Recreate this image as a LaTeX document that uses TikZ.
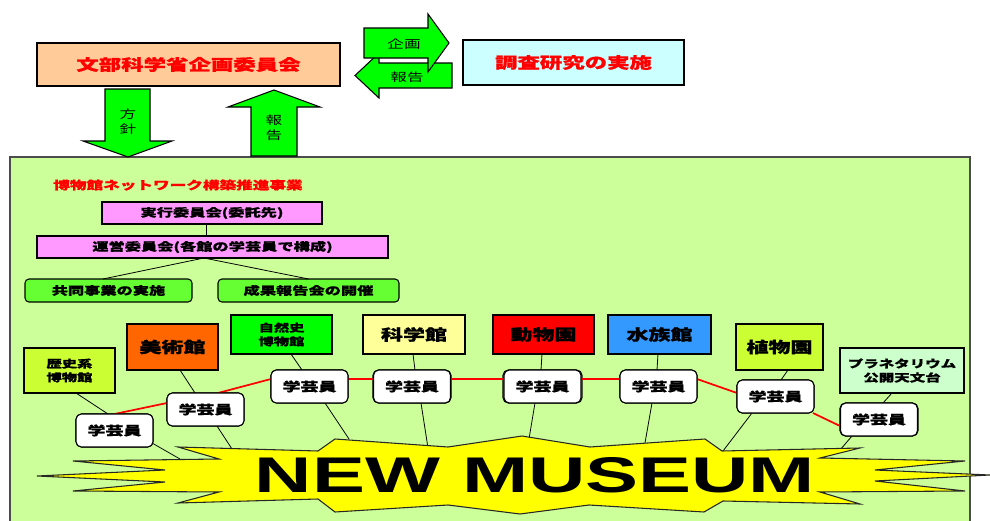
\documentclass[tikz,border=0pt]{standalone}
\usepackage{fontspec}
\setmainfont{Liberation Sans}
\newfontfamily\jp[FakeStretch=1.45, BoldFeatures={FakeBold=0.9}]{Noto Sans CJK JP}
\usetikzlibrary{calc}
\definecolor{peach}{HTML}{FFCC99}
\definecolor{lcyan}{HTML}{CCFFFF}
\definecolor{agreen}{HTML}{00FF00}
\definecolor{panelc}{HTML}{CCFF99}
\definecolor{pinkc}{HTML}{FF99FF}
\definecolor{bgreen}{HTML}{66FF33}
\definecolor{ygreen}{HTML}{CCFF33}
\definecolor{orangec}{HTML}{FF6600}
\definecolor{natc}{HTML}{00FF00}
\definecolor{lyellow}{HTML}{FFFF99}
\definecolor{redc}{HTML}{FF0000}
\definecolor{bluec}{HTML}{3399FF}
\definecolor{mintc}{HTML}{CCFFCC}
\definecolor{starc}{HTML}{FFFF00}
\newcommand\bx[7]{\node[#6, minimum width={(#4-#2)*0.75pt}, minimum height={(#5-#3)*0.75pt}] (#1) at ({(#2+#4)/2},{(#3+#5)/2}) {#7};}
\begin{document}
\begin{tikzpicture}[x=0.75pt,y=-0.75pt,
  base/.style={inner sep=0pt, outer sep=0pt, align=center},
  rbox/.style={base, draw=black, line width=0.8pt},
  gbox/.style={rbox, fill=white, rounded corners=4pt, font=\jp\bfseries\fontsize{9.3}{10}\selectfont},
  bigjp/.style={font=\jp\bfseries\fontsize{11.6}{14}\selectfont},
  midjp/.style={font=\jp\bfseries\fontsize{11.4}{13}\selectfont},
  twojp/.style={font=\jp\bfseries\fontsize{7.9}{10.3}\selectfont},
  smalljp/.style={font=\jp\bfseries\fontsize{8.4}{10}\selectfont},
  arrowlbl/.style={base, font=\jp\fontsize{8.6}{11.2}\selectfont},
  blockarrow/.style={draw=black, line width=0.8pt, fill=agreen},
  conn/.style={draw=black, line width=0.6pt},
  redline/.style={draw=red, line width=1.3pt},
  starshape/.style={draw=black!85, line width=0.8pt, fill=starc, line join=miter}
]
\useasboundingbox (0,0) rectangle (990,521);
\clip (0,0) rectangle (990,521);
\fill[white] (0,0) rectangle (990,521);

% top boxes
\bx{mext}{37}{43}{340}{86}{rbox, fill=peach, text=red, bigjp}{文部科学省企画委員会}
\bx{chosa}{463}{40}{684}{85}{rbox, fill=lcyan, text=red, bigjp}{調査研究の実施}

% main panel
\bx{panel}{10}{157}{970}{545}{rbox, draw=black!70, line width=1.2pt, fill=panelc}{}

% horizontal block arrows
\draw[blockarrow] (452,63) -- (379,63) -- (379,53) -- (355,75.5) -- (379,98) -- (379,88) -- (452,88) -- cycle;
\draw[blockarrow] (364,28) -- (428,28) -- (428,14) -- (449,43) -- (428,72) -- (428,58) -- (364,58) -- cycle;
\node[arrowlbl] (lkikaku) at (404,44) {企画};
\node[arrowlbl] (lhoukoku1) at (407,77) {報告};

% vertical block arrows
\draw[blockarrow] (105,89) -- (150,89) -- (150,141) -- (172,141) -- (128,157) -- (83,141) -- (105,141) -- cycle;
\draw[blockarrow] (251,156) -- (251,107) -- (228,107) -- (274,90) -- (320,107) -- (297,107) -- (297,156) -- cycle;
\node[arrowlbl] (lhoushin) at (128,122) {方\\針};
\node[arrowlbl] (lhoukoku2) at (274,128) {報\\告};

% title
\node[base, text=red, font=\jp\bfseries\fontsize{8.6}{10}\selectfont] (title) at (178,185) {博物館ネットワーク構築推進事業};

% committee tree
\bx{e1}{102}{202}{322}{224}{rbox, fill=pinkc, smalljp}{実行委員会(委託先)}
\bx{e2}{37}{236}{388}{258}{rbox, fill=pinkc, smalljp}{運営委員会(各館の学芸員で構成)}
\bx{j1}{25}{279}{192}{302}{rbox, fill=bgreen, rounded corners=3pt, smalljp}{共同事業の実施}
\bx{j2}{218}{279}{399}{302}{rbox, fill=bgreen, rounded corners=3pt, smalljp}{成果報告会の開催}
\draw[conn] ($(e1.south)+(-6,0)$) -- ($(e2.north)+(-6.5,0)$);
\draw[conn] ($(e2.south)+(-8.5,0)$) -- ($(j1.north)+(-5.5,0)$);
\draw[conn] ($(e2.south)+(-8.5,0)$) -- (j2.north);

% museum boxes
\bx{m1}{24}{348}{115}{393}{rbox, fill=ygreen, twojp}{歴史系\\博物館}
\bx{m2}{127}{324}{218}{370}{rbox, fill=orangec, midjp}{美術館}
\bx{m3}{231}{315}{332}{354}{rbox, fill=natc, twojp}{自然史\\博物館}
\bx{m4}{363}{315}{465}{354}{rbox, fill=lyellow, midjp}{科学館}
\bx{m5}{493}{315}{594}{354}{rbox, fill=redc, midjp}{動物園}
\bx{m6}{608}{315}{711}{354}{rbox, fill=bluec, midjp}{水族館}
\bx{m7}{736}{324}{823}{370}{rbox, fill=ygreen, midjp}{植物園}
\bx{m8}{840}{348}{964}{393}{rbox, fill=mintc, font=\jp\bfseries\fontsize{8}{10.5}\selectfont}{プラネタリウム\\公開天文台}

% star contact points
\coordinate (s1) at (180,459);
\coordinate (s2) at (232,449);
\coordinate (s3) at (349,439);
\coordinate (s4) at (428,448);
\coordinate (s5) at (529,439);
\coordinate (s6) at (645,443);
\coordinate (s7) at (723,451);
\coordinate (s8) at (840,450);

% curator boxes (positions only; drawn later)
\path
  node[gbox, minimum width=57.75pt, minimum height=24.75pt] (g1) at (114.5,430.5) {}
  node[gbox, minimum width=57.75pt, minimum height=24.75pt] (g2) at (205.5,409.5) {}
  node[gbox, minimum width=57.75pt, minimum height=24.75pt] (g3) at (309.5,386.5) {}
  node[gbox, minimum width=58.5pt, minimum height=24.75pt] (g4) at (412,386.5) {}
  node[gbox, minimum width=59.25pt, minimum height=24.75pt] (g5) at (542.5,386.5) {}
  node[gbox, minimum width=57.75pt, minimum height=24.75pt] (g6) at (658.5,386.5) {}
  node[gbox, minimum width=57.75pt, minimum height=24.75pt] (g7) at (775.5,396.5) {}
  node[gbox, minimum width=58.5pt, minimum height=24.75pt] (g8) at (879,419.5) {};

% museum -> curator connectors
\draw[conn] ($(m1.south)+(6.5,0)$) -- ($(g1.north)+(-6.5,0)$);
\draw[conn] ($(m2.south)+(7.5,0)$) -- ($(g2.north)+(-10.5,0)$);
\draw[conn] ($(m3.south)+(9.5,0)$) -- ($(g3.north)+(-7.5,0)$);
\draw[conn] ($(m4.south)+(-1,0)$) -- ($(g4.north)+(3,0)$);
\draw[conn] ($(m5.south)+(-1.5,0)$) -- ($(g5.north)+(-1.5,0)$);
\draw[conn] ($(m6.south)+(-1.5,0)$) -- ($(g6.north)+(-1.5,0)$);
\draw[conn] ($(m7.south)+(8.5,0)$) -- ($(g7.north)+(5.5,0)$);
\draw[conn] ($(m8.south)+(-10,0)$) -- ($(g8.north)+(4,0)$);

% curator -> museum star connectors
\draw[conn] ($(g1.south east)+(-1,-4)$) -- (s1);
\draw[conn] ($(g2.south)+(11.5,0)$) -- (s2);
\draw[conn] ($(g3.south)+(15.5,0)$) -- (s3);
\draw[conn] ($(g4.south)+(9,0)$) -- (s4);
\draw[conn] ($(g5.south)+(-7.5,0)$) -- (s5);
\draw[conn] ($(g6.south)+(-6.5,0)$) -- (s6);
\draw[conn] ($(g7.south)+(-23.5,0)$) -- (s7);
\draw[conn] ($(g8.south)+(-27,0)$) -- (s8);

% red network line
\draw[redline] (g1.north) -- ($(g2.west)+(0,-6.5)$);
\draw[redline] ($(g2.north)+(12.5,0)$) -- ($(g3.west)+(0,-7.5)$);
\draw[redline] ($(g3.east)+(0,-7.5)$) -- ($(g4.west)+(0,-7.5)$);
\draw[redline] ($(g4.east)+(0,-7.5)$) -- ($(g5.west)+(0,-7.5)$);
\draw[redline] ($(g5.east)+(0,-7.5)$) -- ($(g6.west)+(0,-7.5)$);
\draw[redline] ($(g6.east)+(0,-7.5)$) -- ($(g7.west)+(0,-3.5)$);
\draw[redline] ($(g7.south east)+(-1,0)$) -- ($(g8.west)+(0,6.5)$);

% NEW MUSEUM star
\draw[starshape] (178,447) -- (318,451) -- (335,439) -- (448,447) -- (522,436) -- (590,447) -- (705,439) -- (722,451) -- (860,448) -- (820,458) -- (965,461) -- (875,470) -- (990,475) -- (875,481) -- (965,491) -- (820,492) -- (860,504) -- (723,501) -- (704,512) -- (589,505) -- (520,514) -- (448,505) -- (335,512) -- (318,499) -- (178,503) -- (219,492) -- (73,491) -- (165,482) -- (37,476) -- (165,470) -- (73,461) -- (219,459) -- cycle;
\node[base] (newmuseum) at (535,475.5) {\resizebox{420pt}{26.25pt}{\bfseries NEW MUSEUM}};

% curator boxes drawn on top
\foreach \g in {g1,g2,g3,g4,g5,g6,g7,g8}{
  \node[gbox, minimum width=57.75pt, minimum height=24.75pt] at (\g) {学芸員};
}
\end{tikzpicture}
\end{document}
